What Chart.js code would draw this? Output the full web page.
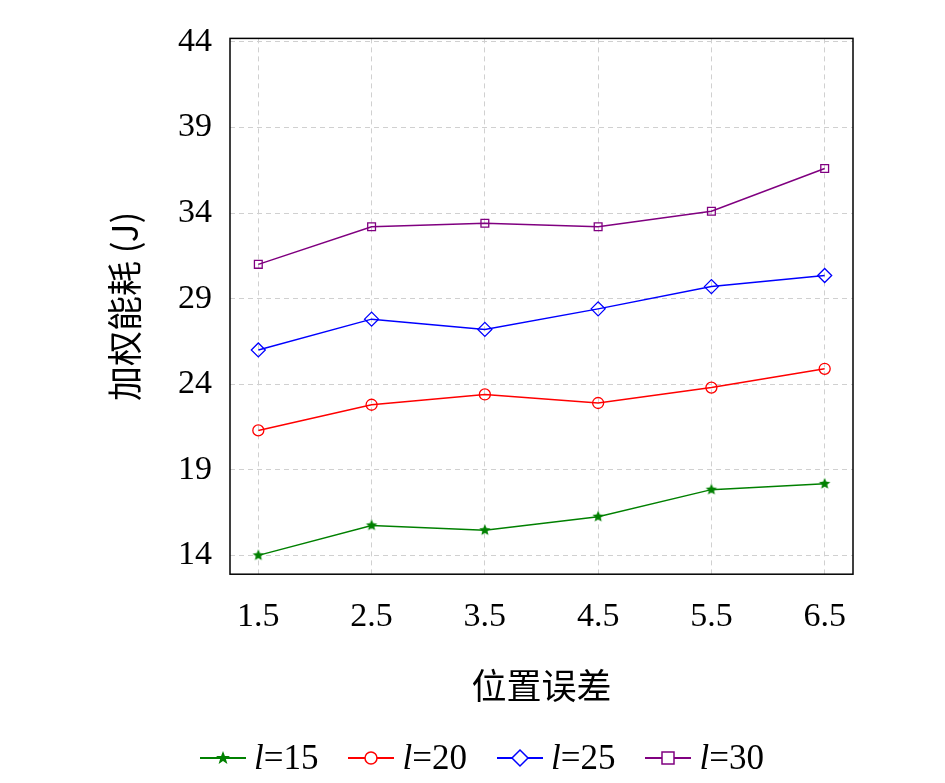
<!DOCTYPE html>
<html lang="zh">
<head>
<meta charset="UTF-8">
<title>加权能耗</title>
<script src="https://cdn.jsdelivr.net/npm/chart.js"></script>
<style>
  body { margin: 0; background: #fff; }
  #wrap { position: relative; width: 945px; height: 783px; }
  #legend { position: absolute; top: 738px; left: 200px; display: flex; gap: 30px;
            font-family: "Liberation Serif", serif; font-size: 35px; }
  #legend span.item { display: flex; align-items: center; gap: 8px; }
  #legend i { font-style: italic; }
</style>
</head>
<body>
<div id="wrap">
  <canvas id="chart" width="945" height="783"></canvas>
  <div id="legend"></div>
</div>
<script>
// 数据
const xValues = [1.5, 2.5, 3.5, 4.5, 5.5, 6.5];
const l15 = [14.0, 15.75, 15.47, 16.26, 17.84, 18.18];
const l20 = [21.3, 22.8, 23.4, 22.9, 23.8, 24.9];
const l25 = [26.0, 27.8, 27.2, 28.4, 29.7, 30.35];
const l30 = [31.0, 33.2, 33.4, 33.2, 34.1, 36.6];
const yTicks = [14, 19, 24, 29, 34, 39, 44];
const seriesNames = ['15', '20', '25', '30'];
const colors = ['#008000', '#ff0000', '#0000ff', '#800080'];

// 实心五角星
function makeStar(color, r) {
  const c = document.createElement('canvas');
  c.width = c.height = r * 2 + 2;
  const g = c.getContext('2d');
  g.fillStyle = color;
  g.beginPath();
  for (let i = 0; i < 10; i++) {
    const rad = i % 2 ? r * 0.45 : r;
    const a = -Math.PI / 2 + i * Math.PI / 5;
    g.lineTo(r + 1 + rad * Math.cos(a), r + 1 + rad * Math.sin(a));
  }
  g.closePath();
  g.fill();
  return c;
}
const star = makeStar(colors[0], 6);

const styles = [star, 'circle', 'rectRot', 'rect'];
const radii = [6, 5.5, 7, 5.5];
const allData = [l15, l20, l25, l30];

const datasets = allData.map((vals, k) => ({
  label: 'l=' + seriesNames[k],
  data: vals.map((v, i) => ({ x: xValues[i], y: v })),
  borderColor: colors[k],
  backgroundColor: '#fff',
  pointStyle: styles[k],
  pointRadius: radii[k],
  pointBorderColor: colors[k],
  pointBackgroundColor: 'rgba(0,0,0,0)',
  borderWidth: 1.5,
  pointBorderWidth: 1.3
}));

const frame = {
  id: 'frame',
  afterDraw(chart) {
    const a = chart.chartArea, g = chart.ctx;
    g.save();
    g.strokeStyle = '#000';
    g.lineWidth = 1.5;
    g.strokeRect(a.left, a.top, a.right - a.left, a.bottom - a.top);
    g.restore();
  }
};

const font = { family: '"Liberation Serif", serif', size: 34 };
const grid = { color: '#d0d0d0', tickLength: 0 };
new Chart(document.getElementById('chart'), {
  type: 'line',
  data: { datasets },
  plugins: [frame],
  options: {
    responsive: false,
    animation: false,
    layout: { padding: { left: 100, right: 92, top: 4, bottom: 72 } },
    plugins: { legend: { display: false }, tooltip: { enabled: false } },
    scales: {
      x: {
        type: 'linear', min: 1.25, max: 6.75,
        afterBuildTicks: s => { s.ticks = xValues.map(v => ({ value: v })); },
        ticks: { font, color: '#000', padding: 22, callback: v => v.toFixed(1) },
        grid,
        border: { dash: [5, 4], display: false },
        title: { display: true, text: '位置误差', color: '#000', font: { family: '"Noto Sans CJK SC"', size: 35 }, padding: { top: 6 } }
      },
      y: {
        min: 12.9, max: 44.2,
        afterBuildTicks: s => { s.ticks = yTicks.map(v => ({ value: v })); },
        ticks: { font, color: '#000', padding: 18 },
        grid,
        border: { dash: [5, 4], display: false },
        title: { display: true, text: '加权能耗 (J)', color: '#000', font: { family: '"Noto Sans CJK SC"', size: 35 }, padding: { bottom: 14 } }
      }
    }
  }
});

// 图例
const legend = document.getElementById('legend');
const sym = [
  '<svg width="46" height="20"><line x1="0" y1="10" x2="46" y2="10" stroke="#008000" stroke-width="2"/><polygon points="23,3 24.9,8 30,8 25.9,11 27.4,16 23,13 18.6,16 20.1,11 16,8 21.1,8" fill="#008000"/></svg>',
  '<svg width="46" height="20"><line x1="0" y1="10" x2="46" y2="10" stroke="#ff0000" stroke-width="2"/><circle cx="23" cy="10" r="6" fill="#fff" stroke="#ff0000" stroke-width="1.5"/></svg>',
  '<svg width="46" height="20"><line x1="0" y1="10" x2="46" y2="10" stroke="#0000ff" stroke-width="2"/><polygon points="23,2 31,10 23,18 15,10" fill="#fff" stroke="#0000ff" stroke-width="1.5"/></svg>',
  '<svg width="46" height="20"><line x1="0" y1="10" x2="46" y2="10" stroke="#800080" stroke-width="2"/><rect x="17" y="4" width="12" height="12" fill="#fff" stroke="#800080" stroke-width="1.5"/></svg>'
];
seriesNames.forEach((n, k) => {
  const s = document.createElement('span');
  s.className = 'item';
  s.innerHTML = sym[k] + '<span><i>l</i>=' + n + '</span>';
  legend.appendChild(s);
});
</script>
</body>
</html>
